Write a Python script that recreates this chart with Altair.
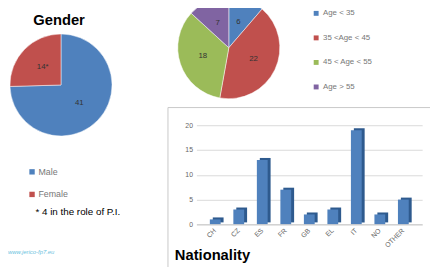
import altair as alt
import pandas as pd

# ---- data ----
gender_cats = ["Male", "Female"]
gender_vals = [41, 14]
gender_labels = ["41", "14*"]

age_cats = ["Age < 35", "35 <Age < 45", "45 < Age < 55", "Age > 55"]
age_vals = [6, 22, 18, 7]
age_labels = ["6", "22", "18", "7"]

nat_cats = ["CH", "CZ", "ES", "FR", "GB", "EL", "IT", "NO", "OTHER"]
nat_vals = [1, 3, 13, 7, 2, 3, 19, 2, 5]
nat_ticks = [0, 5, 10, 15, 20]

BLUE, RED, GREEN, PURPLE = "#4F81BD", "#C0504D", "#9BBB59", "#8064A2"
FONT = "Liberation Sans"

gender_df = pd.DataFrame({"cat": gender_cats, "val": gender_vals,
                          "lab": gender_labels, "ord": range(len(gender_cats))})
age_df = pd.DataFrame({"cat": age_cats, "val": age_vals,
                       "lab": age_labels, "ord": range(len(age_cats))})
nat_df = pd.DataFrame({"cat": nat_cats, "val": nat_vals})

W, H = 430, 259

# ---- Gender pie ----
g_arc = alt.Chart(gender_df).mark_arc(outerRadius=52, stroke="white", strokeWidth=0.5).encode(
    x=alt.value(54), y=alt.value(76),
    theta=alt.Theta("val:Q", stack=True),
    order=alt.Order("ord:Q"),
    color=alt.Color("cat:N", title=None,
                    scale=alt.Scale(domain=gender_cats, range=[BLUE, RED]),
                    legend=alt.Legend(orient="none", legendX=20, legendY=160,
                                      symbolType="square", symbolSize=30,
                                      symbolStrokeWidth=0, labelFont=FONT,
                                      labelFontSize=9, labelColor="#777",
                                      labelOffset=2, rowPadding=13)),
)
g_txt = alt.Chart(gender_df).mark_text(radius=26, font=FONT, fontSize=8, color="#333").encode(
    x=alt.value(54), y=alt.value(76),
    theta=alt.Theta("val:Q", stack=True),
    order=alt.Order("ord:Q"),
    detail="cat:N",
    text="lab:N",
)

# ---- Age pie ----
a_arc = alt.Chart(age_df).mark_arc(outerRadius=52, stroke="white", strokeWidth=0.5).encode(
    x=alt.value(225), y=alt.value(38),
    theta=alt.Theta("val:Q", stack=True),
    order=alt.Order("ord:Q"),
    color=alt.Color("cat:N", title=None,
                    scale=alt.Scale(domain=age_cats, range=[BLUE, RED, GREEN, PURPLE]),
                    sort=age_cats,
                    legend=alt.Legend(orient="none", legendX=310, legendY=-1,
                                      symbolType="square", symbolSize=25,
                                      symbolStrokeWidth=0, labelFont=FONT,
                                      labelFontSize=8, labelColor="#777",
                                      labelOffset=3, rowPadding=17)),
)
a_txt = alt.Chart(age_df).mark_text(radius=28, font=FONT, fontSize=8, color="#333").encode(
    x=alt.value(225), y=alt.value(38),
    theta=alt.Theta("val:Q", stack=True),
    order=alt.Order("ord:Q"),
    detail="cat:N",
    text="lab:N",
)

# ---- Nationality bar chart ----
frame = alt.Chart(pd.DataFrame({"a": [0]})).mark_rect(
    fillOpacity=0, stroke="#c8c8c8", strokeWidth=1).encode(
    x=alt.value(163), x2=alt.value(440), y=alt.value(99), y2=alt.value(270))

XSCALE = alt.Scale(range=[192, 422], paddingInner=0, paddingOuter=0.3)
YSCALE = alt.Scale(domain=[0, 20], range=[218, 117], nice=False)

xs = alt.X("cat:N", sort=nat_cats, title=None, scale=XSCALE,
           axis=alt.Axis(offset=-41, labelAngle=-45, labelAlign="right",
                         labelBaseline="middle", labelFont=FONT, labelFontSize=7,
                         labelColor="#666", ticks=False, labelPadding=5,
                         domainColor="#c8c8c8", grid=False, zindex=1))
ys = alt.Y("val:Q", title=None, scale=YSCALE,
           axis=alt.Axis(offset=-192, values=nat_ticks, ticks=False, tickSize=0,
                         domain=False, labelPadding=4, labelFont=FONT,
                         labelFontSize=7, labelColor="#666",
                         gridColor="#d9d9d9", grid=True))

bar_side = alt.Chart(nat_df).mark_bar(size=11, color="#2E5A8E", xOffset=3, yOffset=-2).encode(
    x=xs, y=ys)
bar_main = alt.Chart(nat_df).mark_bar(size=11, color=BLUE).encode(
    x=alt.X("cat:N", sort=nat_cats, scale=XSCALE, axis=None),
    y=alt.Y("val:Q", scale=YSCALE, axis=None))

# ---- texts ----
def label(txt, x, y, size, weight="normal", color="#000", align="left", style="normal"):
    return alt.Chart(pd.DataFrame({"t": [txt]})).mark_text(
        font=FONT, fontSize=size, fontWeight=weight, color=color, align=align,
        baseline="middle", fontStyle=style).encode(
        text="t:N", x=alt.value(x), y=alt.value(y))

t_gender = label("Gender", 52, 10, 15, "bold", align="center")
t_nat = label("Nationality", 170, 249, 15, "bold")
t_note = label("* 4 in the role of P.I.", 28, 205, 10)
t_url = label("www.jerico-fp7.eu", 0, 246, 6, color="#6cc3e0", style="italic")

chart = alt.layer(
    frame, bar_side, bar_main,
    g_arc, g_txt, a_arc, a_txt,
    t_gender, t_nat, t_note, t_url,
).resolve_scale(
    x="independent", y="independent", theta="independent", color="independent"
).resolve_axis(x="independent", y="independent").properties(
    width=W, height=H, autosize=alt.AutoSizeParams(type="none"), padding=0
).configure_view(stroke=None)

chart.save("out.html", embed_options={"renderer": "svg", "actions": False})
